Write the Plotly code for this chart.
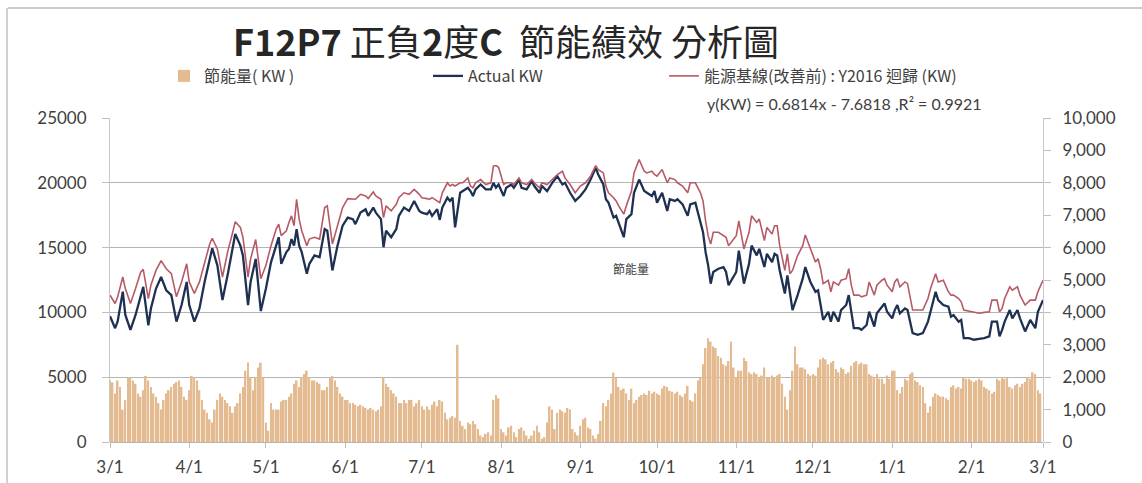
import pandas as pd
import plotly.graph_objects as go

# ---------------- data ----------------
MONTH_TICKS = ["2017-03-01", "2017-04-01", "2017-05-01", "2017-06-01", "2017-07-01", "2017-08-01",
               "2017-09-01", "2017-10-01", "2017-11-01", "2017-12-01", "2018-01-01", "2018-02-01", "2018-03-01"]
MONTH_LABELS = ["3/1", "4/1", "5/1", "6/1", "7/1", "8/1", "9/1", "10/1", "11/1", "12/1", "1/1", "2/1", "3/1"]

LINE_DATES = [
    "2017-03-01", "2017-03-03", "2017-03-04", "2017-03-06", "2017-03-07", "2017-03-09", "2017-03-11", "2017-03-13", "2017-03-14", "2017-03-16",
    "2017-03-17", "2017-03-19", "2017-03-21", "2017-03-23", "2017-03-25", "2017-03-27", "2017-03-29", "2017-03-31", "2017-04-01", "2017-04-03",
    "2017-04-05", "2017-04-07", "2017-04-09", "2017-04-10", "2017-04-12", "2017-04-14", "2017-04-16", "2017-04-18", "2017-04-19", "2017-04-21",
    "2017-04-22", "2017-04-24", "2017-04-25", "2017-04-27", "2017-04-28", "2017-04-29", "2017-05-01", "2017-05-03", "2017-05-05", "2017-05-06",
    "2017-05-07", "2017-05-09", "2017-05-10", "2017-05-11", "2017-05-12", "2017-05-13", "2017-05-14", "2017-05-15", "2017-05-17", "2017-05-18",
    "2017-05-20", "2017-05-22", "2017-05-24", "2017-05-25", "2017-05-27", "2017-05-29", "2017-05-31", "2017-06-02", "2017-06-04", "2017-06-05",
    "2017-06-07", "2017-06-09", "2017-06-10", "2017-06-12", "2017-06-13", "2017-06-15", "2017-06-16", "2017-06-17", "2017-06-19", "2017-06-21",
    "2017-06-22", "2017-06-24", "2017-06-26", "2017-06-28", "2017-06-30", "2017-07-01",
    "2017-07-03", "2017-07-04", "2017-07-05", "2017-07-07", "2017-07-08", "2017-07-09", "2017-07-11", "2017-07-12", "2017-07-13", "2017-07-14",
    "2017-07-16", "2017-07-17", "2017-07-19", "2017-07-20", "2017-07-21", "2017-07-22", "2017-07-24", "2017-07-26", "2017-07-28", "2017-07-29",
    "2017-07-30", "2017-07-31", "2017-08-02", "2017-08-03", "2017-08-05", "2017-08-06", "2017-08-08", "2017-08-09", "2017-08-11", "2017-08-13",
    "2017-08-14", "2017-08-16", "2017-08-17", "2017-08-19", "2017-08-21", "2017-08-23", "2017-08-25", "2017-08-26", "2017-08-28", "2017-08-30",
    "2017-09-01", "2017-09-03", "2017-09-05", "2017-09-07", "2017-09-08", "2017-09-10", "2017-09-11", "2017-09-12", "2017-09-14", "2017-09-15",
    "2017-09-16", "2017-09-18", "2017-09-19", "2017-09-21", "2017-09-22", "2017-09-24", "2017-09-26", "2017-09-27", "2017-09-29", "2017-09-30",
    "2017-10-01", "2017-10-03", "2017-10-05", "2017-10-06", "2017-10-08", "2017-10-09", "2017-10-11", "2017-10-13", "2017-10-14", "2017-10-16",
    "2017-10-18", "2017-10-19", "2017-10-20", "2017-10-21", "2017-10-22", "2017-10-23", "2017-10-25", "2017-10-27", "2017-10-28", "2017-10-29",
    "2017-11-01", "2017-11-02", "2017-11-04", "2017-11-06", "2017-11-07", "2017-11-09", "2017-11-10", "2017-11-12", "2017-11-13", "2017-11-15",
    "2017-11-16", "2017-11-17", "2017-11-18", "2017-11-20", "2017-11-21", "2017-11-22", "2017-11-23", "2017-11-25", "2017-11-27", "2017-11-28",
    "2017-11-30", "2017-12-02", "2017-12-03", "2017-12-04", "2017-12-05", "2017-12-07", "2017-12-08", "2017-12-09", "2017-12-11", "2017-12-12",
    "2017-12-14", "2017-12-15", "2017-12-16", "2017-12-17", "2017-12-19", "2017-12-20", "2017-12-22", "2017-12-23", "2017-12-25", "2017-12-26",
    "2017-12-28", "2017-12-29", "2017-12-30", "2018-01-01", "2018-01-02", "2018-01-03", "2018-01-04", "2018-01-06", "2018-01-07", "2018-01-09",
    "2018-01-11", "2018-01-13", "2018-01-15", "2018-01-16", "2018-01-18", "2018-01-19", "2018-01-21", "2018-01-23", "2018-01-24", "2018-01-25",
    "2018-01-27", "2018-01-28", "2018-01-29", "2018-01-31", "2018-02-02", "2018-02-04", "2018-02-06", "2018-02-08", "2018-02-09", "2018-02-11",
    "2018-02-12", "2018-02-13", "2018-02-14", "2018-02-16", "2018-02-17", "2018-02-19", "2018-02-20", "2018-02-22", "2018-02-24", "2018-02-26",
    "2018-02-27", "2018-03-01",
]

ACTUAL_KW = [
    9700, 8780, 9300, 11600, 9800, 8650, 9800, 11330, 11970, 9000,
    10300, 11840, 12730, 11710, 11330, 9290, 10570, 12350, 10570, 9290,
    10300, 12350, 14130, 14950, 13630, 10950, 12860, 14900, 16050, 15150,
    14400, 10570, 12350, 14130, 12350, 10100, 11840, 13880, 15150, 15800,
    13750, 14650, 14900, 15660, 15150, 16430, 15150, 14650, 12990, 13750,
    14400, 14260, 16430, 16300, 13240, 15150, 16690, 17320, 17200, 16810,
    17700, 17960, 17450, 18090, 17700, 17200, 15030, 16300, 15800, 16430,
    17450, 18090, 17830, 18600, 17830, 17700,
    17580, 17830, 17450, 17960, 17140, 18090, 18850, 18600, 18850, 16560,
    19230, 19360, 19620, 19360, 18980, 19490, 19870, 19490, 19490, 20000,
    19620, 19870, 18980, 19620, 19870, 19620, 20250, 19620, 19490, 20130,
    19750, 19230, 19750, 19360, 20000, 20510, 19870, 20000, 19230, 18600,
    18980, 19490, 20250, 21150, 20640, 19870, 18730, 18470, 17320, 17450,
    16940, 15800, 17200, 17580, 19230, 20250, 19360, 19230, 18980, 19360,
    18470, 19230, 17830, 18730, 18600, 18730, 18340, 17450, 18340, 18470,
    17070, 16180, 14650, 13630, 12220, 13120, 13370, 13500, 13120, 12100,
    13120, 14770, 12220, 13750, 15150, 14400, 14900, 13500, 14520, 13880,
    14520, 14400, 13240, 11460, 12860, 11590, 10180, 11330, 12600, 13500,
    12350, 11590, 11710, 10570, 9420, 10050, 9290, 10050, 9290, 10180,
    10570, 11330, 10180, 8780, 8780, 8650, 9030, 10050, 8910, 9930,
    10440, 10690, 10050, 9540, 10180, 10570, 9930, 10310, 10180, 8400,
    8270, 8400, 9290, 10050, 11590, 10950, 10570, 10440, 9670, 9800,
    9290, 9420, 8020, 8020, 7890, 7960, 8020, 8150, 9290, 9290,
    8150, 8650, 9290, 10180, 9540, 10180, 9540, 8530, 9420, 8780,
    10050, 10950,
]

BASELINE_KW = [
    11330, 10690, 11200, 12730, 11840, 10690, 11840, 13100, 13320, 11070,
    12100, 13240, 14000, 13370, 12990, 11200, 12350, 13750, 12350, 11460,
    12350, 13750, 15280, 15720, 14900, 12730, 14650, 16180, 16990, 16560,
    15800, 12730, 14130, 15620, 14130, 12600, 13630, 15150, 16430, 16810,
    15920, 16300, 16940, 17450, 16690, 18730, 17200, 16300, 15150, 15660,
    15800, 15660, 18090, 18220, 15280, 16690, 18090, 18780, 18730, 18730,
    19110, 18980, 18780, 19290, 18980, 18730, 17320, 18220, 17830, 18340,
    18850, 19230, 19110, 19490, 19110, 18850,
    18780, 18730, 18850, 18600, 18470, 19230, 20000, 19750, 19870, 19750,
    20000, 20000, 20380, 19750, 19620, 20000, 20250, 19870, 20000, 21280,
    21330, 21200, 19870, 20000, 20000, 19870, 20380, 20000, 19870, 20250,
    20000, 19620, 20000, 19870, 20250, 20640, 20890, 20380, 19870, 19230,
    19750, 20000, 20510, 21330, 21020, 20760, 19750, 19230, 18850, 18600,
    18220, 17580, 18220, 19360, 20760, 21790, 20890, 20760, 20890, 20640,
    20510, 21020, 20000, 20380, 20250, 20000, 19750, 19230, 20000, 20000,
    19230, 18600, 17070, 15920, 15280, 16180, 16180, 15920, 15800, 15150,
    15920, 17070, 14900, 16180, 17450, 16940, 17200, 15540, 16560, 16050,
    16690, 16690, 15150, 13240, 14520, 12990, 13240, 14390, 15150, 15970,
    14900, 13880, 14140, 13370, 12220, 12480, 11590, 12350, 12100, 12480,
    12600, 13370, 12100, 11330, 11330, 11200, 11330, 12350, 11330, 12100,
    12480, 12600, 12100, 11590, 12350, 12600, 11970, 12350, 12220, 10180,
    10180, 10180, 11070, 11840, 12990, 12350, 12480, 11590, 11330, 11330,
    11070, 10820, 10180, 10100, 10050, 9930, 10000, 10050, 10950, 10950,
    10050, 10310, 11070, 11970, 11710, 11970, 11330, 10570, 10950, 10950,
    11590, 12480,
]

# daily savings (right axis), starting 2017-03-01
SAVINGS_KW = [
    1900, 1840, 1500, 1900, 1700, 1000, 1300, 2000, 2000, 1900,
    1800, 1500, 1400, 1600, 2040, 1900, 1700, 1500, 1400, 1200,
    1000, 1300, 1500, 1600, 1700, 1800, 1850, 1900, 1700, 1400,
    1300, 1600, 2040, 2000, 1900, 1600, 1300, 1000, 900, 700,
    600, 1000, 1300, 1500, 1400, 1300, 1200, 1100, 900, 1100,
    1200, 1500, 1700, 2200, 2450, 2000, 1600, 2000, 2300, 2450,
    2000, 600, 350, 1200, 1000, 1000, 1000, 1250, 1300, 1300,
    1400, 1500, 1800, 1900, 1700, 2000, 2100, 2200, 2000, 1900,
    1900, 1850, 1800, 1600, 1600, 1700, 2000, 2040, 1900, 1700,
    1500, 1400, 1300, 1300, 1200, 1200, 1150, 1100, 1150, 1100,
    1050, 1000, 1050, 1000, 950, 1000, 1100, 2000, 1800, 1700,
    1600, 1500, 1400, 1200, 1200, 1300, 1200, 1300, 1300,
    1100, 1200, 1300, 1100, 1000, 1100, 1000, 1150, 1250, 1100, 1300,
    1250, 900, 700, 750, 800, 750, 3000, 650, 500, 400,
    600, 550, 650, 550, 400, 200, 150, 250, 300, 200,
    1300, 1450, 1350, 400, 300, 200, 450, 500, 300, 150,
    400, 450, 350, 200, 100, 200, 350, 500, 300, 100,
    150, 600, 1100, 1000, 400, 900, 1000,
    950, 900, 1050, 1000, 400, 300, 200, 500, 700, 750,
    450, 400, 200, 100, 250, 650, 1200, 1100, 1300, 1500,
    2140, 2000, 1700, 1600, 1650, 1500, 1300, 1650, 1200, 1300,
    1400, 1450, 1500, 1450, 1580, 1500, 1550, 1500, 1450, 1650,
    1730, 1700, 1580, 1550, 1500, 1550, 1450, 1400, 1500, 1730,
    1300, 1250, 1500, 1900, 2000, 2400, 2900, 3200,
    3100, 2950, 2900, 2650, 2600, 2400, 2350, 2500, 3100, 2300,
    2000, 2200, 2200, 2600, 2500, 2150, 2100, 2150, 2100, 2000,
    2050, 2300, 2000, 2000, 2050, 2000, 2050, 2100, 1800, 1400,
    1000, 1600, 2200, 2950, 2400, 2300, 2300, 2250, 2100, 2050,
    2100, 2050, 2300, 2550, 2600, 2550, 2400, 2450, 2500, 2250,
    2150, 2300, 2250, 2100, 2150, 2350, 2450, 2500, 2400,
    2450, 2400, 2400, 2100, 2050, 2000, 2100, 1950, 1950, 1800,
    2050, 1950, 2200, 2200, 1600, 1500, 1700, 1950, 1900, 2100,
    2150, 1900, 1850, 1750, 1700, 1200, 900, 1100, 1400, 1500,
    1450, 1400, 1400, 1350, 1300, 1700, 1750, 1650, 1700, 1650,
    2000, 1950, 1950, 1900, 1850, 1900, 1950, 1900, 1700, 1650,
    1600, 1500, 1550, 1950, 1900, 2000, 1950, 2000, 1700, 1650,
    1750, 1800, 1700, 1800, 1850, 2000, 1950, 2150, 2100, 1600, 1500,
]

TITLE = "<b>F12P7</b> 正負<b>2</b>度<b>C</b>  節能績效 分析圖"
EQUATION = "y(KW) = 0.6814x - 7.6818 ,R² = 0.9921"

# ---------------- figure ----------------
bar_dates = pd.date_range("2017-03-01", periods=len(SAVINGS_KW), freq="D")

CJK = "Noto Sans CJK TC"
TICKFONT = dict(family="Lato, Noto Sans CJK TC", size=17, color="#404040")

# plot area in pixels (used to place the free text)
PL, PR, PT, PB = 110, 1043, 118, 442
def px(xp):
    return (xp - PL) / (PR - PL)
def py(yp):
    return (PB - yp) / (PB - PT)

fig = go.Figure()
fig.add_trace(go.Bar(
    x=bar_dates, y=SAVINGS_KW, name="節能量( KW )", yaxis="y2",
    marker=dict(color="#E4BA90", line=dict(width=0)), legend="legend",
))
fig.add_trace(go.Scatter(
    x=LINE_DATES, y=ACTUAL_KW, name="Actual KW", mode="lines",
    line=dict(color="#1F3152", width=2.3), legend="legend2",
))
fig.add_trace(go.Scatter(
    x=LINE_DATES, y=BASELINE_KW, name="能源基線(改善前) : Y2016 迴歸 (KW)", mode="lines",
    line=dict(color="#B65A66", width=1.6), legend="legend3",
))

leg_common = dict(orientation="h", yanchor="middle", xanchor="left", bgcolor="rgba(0,0,0,0)",
                  font=dict(family=CJK, size=16, color="#404040"), borderwidth=0)

fig.update_layout(
    width=1142, height=483,
    margin=dict(l=PL, r=1142 - PR, t=PT, b=483 - PB, autoexpand=False),
    paper_bgcolor="white", plot_bgcolor="white",
    bargap=0.35,
    showlegend=True,
    legend=dict(x=px(164), y=py(76), **leg_common),
    legend2=dict(x=px(428), y=py(76), **leg_common),
    legend3=dict(x=px(664), y=py(76), **leg_common),
    xaxis=dict(
        type="date", range=["2017-03-01", "2018-03-01"],
        tickvals=MONTH_TICKS, ticktext=MONTH_LABELS,
        ticks="outside", ticklen=5, tickcolor="#BFBFBF",
        tickfont=TICKFONT, ticklabelstandoff=5,
        showgrid=False, showline=False, zeroline=False,
    ),
    yaxis=dict(
        range=[0, 25000], dtick=5000, tickformat="d",
        showgrid=True, gridcolor="#B4B4B4", gridwidth=1.4,
        zeroline=True, zerolinecolor="#B4B4B4", zerolinewidth=1.4,
        showline=True, linecolor="#C8C8C8", linewidth=1,
        ticks="outside", ticklen=7, tickcolor="#BFBFBF",
        tickfont=TICKFONT, ticklabelstandoff=12,
    ),
    yaxis2=dict(
        overlaying="y", side="right", range=[0, 10000], dtick=1000, tickformat=",",
        showgrid=False, zeroline=False,
        showline=True, linecolor="#C8C8C8", linewidth=1,
        ticks="outside", ticklen=7, tickcolor="#BFBFBF",
        tickfont=TICKFONT, ticklabelstandoff=8,
    ),
    annotations=[
        dict(text=TITLE, xref="paper", yref="paper", x=px(506), y=py(40),
             xanchor="center", yanchor="middle", showarrow=False,
             font=dict(family=CJK, size=36, color="#262626")),
        dict(text=EQUATION, xref="paper", yref="paper", x=px(705), y=py(103),
             xanchor="left", yanchor="middle", showarrow=False,
             font=dict(family="Lato, Noto Sans CJK TC", size=16, color="#404040")),
        dict(text="節能量", xref="paper", yref="paper", x=px(631), y=py(268),
             xanchor="center", yanchor="middle", showarrow=False,
             font=dict(family=CJK, size=12, color="#404040")),
    ],
    shapes=[
        dict(type="line", xref="paper", yref="paper", x0=px(8), x1=px(1142),
             y0=py(8), y1=py(8), line=dict(color="#CCCCCC", width=2)),
        dict(type="line", xref="paper", yref="paper", x0=px(7), x1=px(7),
             y0=py(8), y1=py(483), line=dict(color="#D0D0D0", width=2)),
    ],
)

fig.write_html(
    "out.html",
    config={"displayModeBar": False},
    post_script="document.body.style.margin='0';document.body.style.padding='0';",
)
